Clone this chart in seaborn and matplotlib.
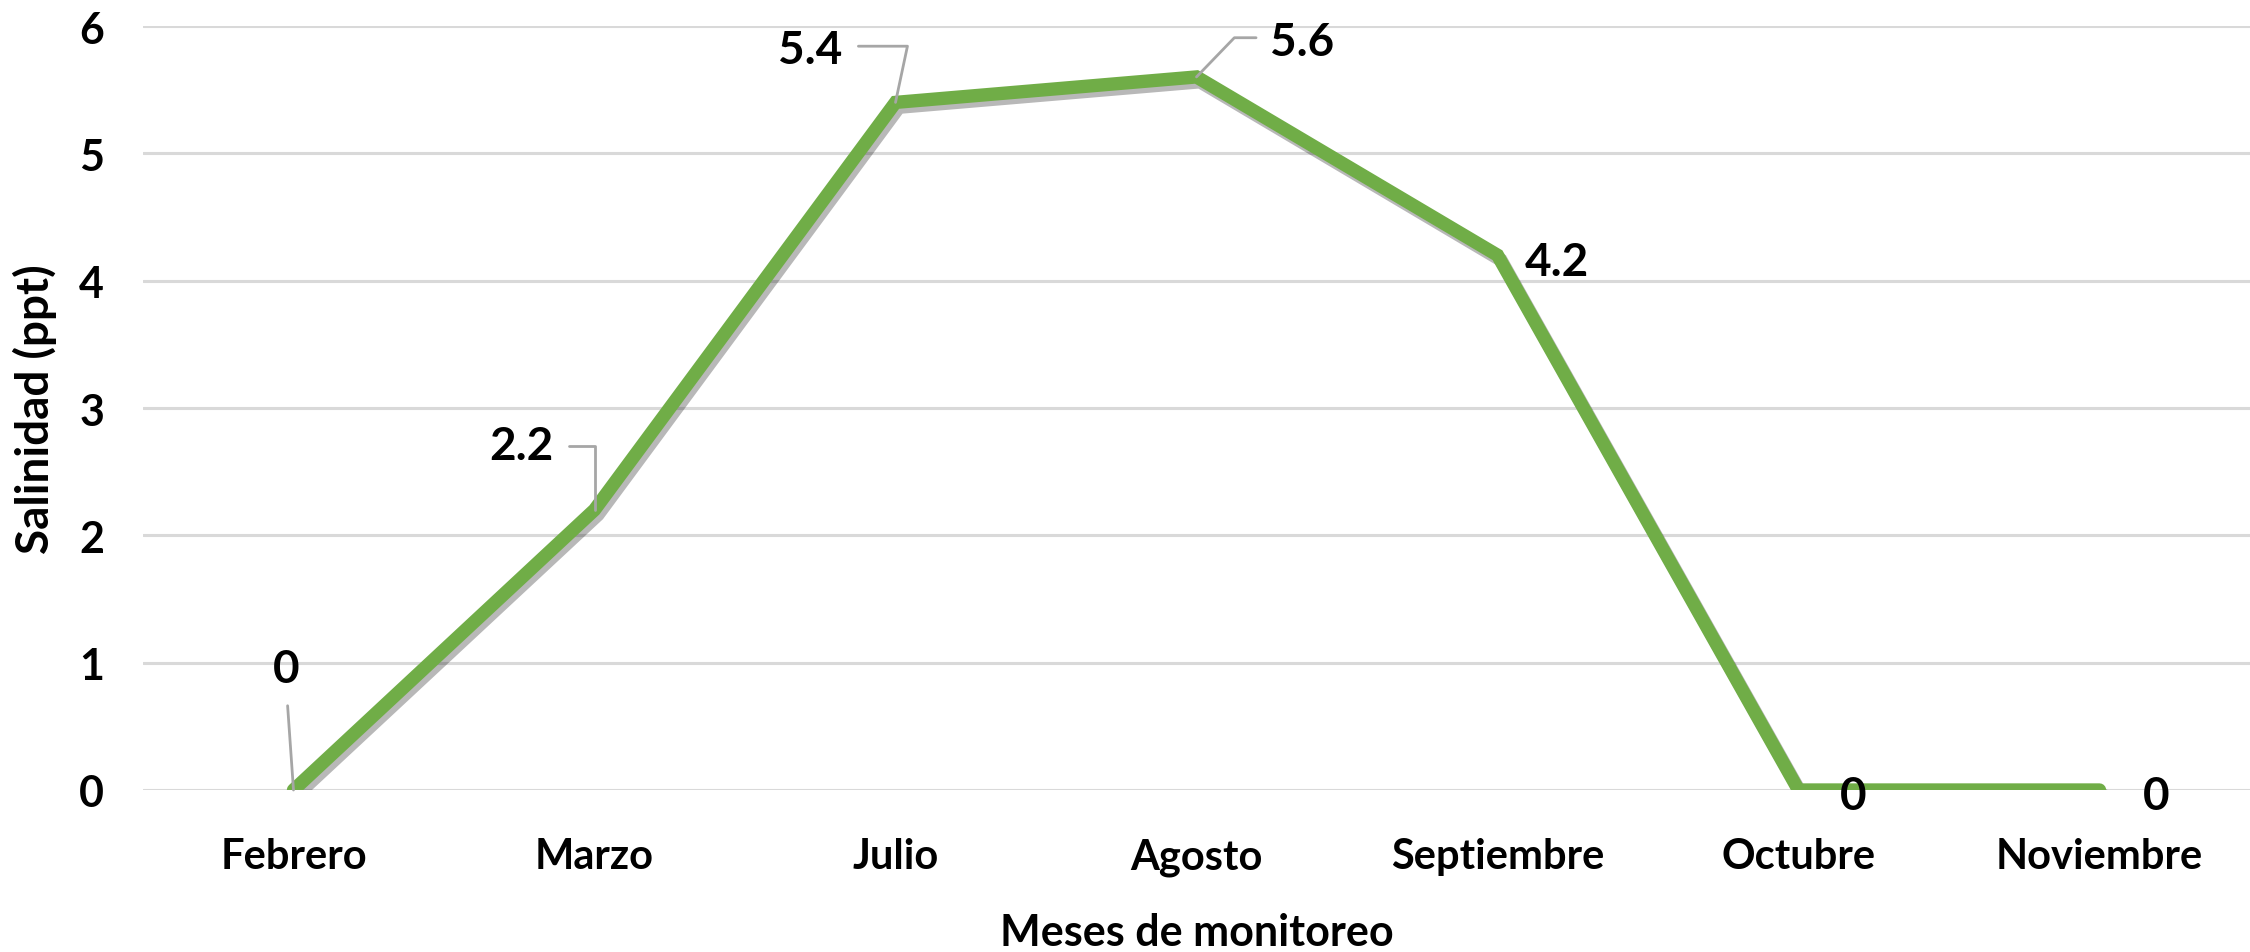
import matplotlib
matplotlib.use("Agg")
import matplotlib.pyplot as plt
import matplotlib.patheffects as pe
import seaborn as sns
import pandas as pd

# ---- data ----
meses = ["Febrero", "Marzo", "Julio", "Agosto", "Septiembre", "Octubre", "Noviembre"]
salinidad = [0, 2.2, 5.4, 5.6, 4.2, 0, 0]
etiquetas = ["0", "2.2", "5.4", "5.6", "4.2", "0", "0"]
yticks = [0, 1, 2, 3, 4, 5, 6]

df = pd.DataFrame({"mes": meses, "sal": salinidad})

sns.set_theme(style="white")
plt.rcParams["font.family"] = ["Lato", "DejaVu Sans"]

W, H, DPI = 2250, 953, 100
fig = plt.figure(figsize=(W / DPI, H / DPI), dpi=DPI)
ax = fig.add_axes([143 / W, (H - 791) / H, (W - 143) / W, (791 - 27) / H])

green = "#70AD47"
sns.lineplot(data=df, x="mes", y="sal", sort=False, ax=ax, color=green,
             linewidth=9.6, solid_joinstyle="miter", solid_capstyle="round",
             path_effects=[pe.SimpleLineShadow(offset=(2.5, -3.5), shadow_color="black", alpha=0.28),
                           pe.Normal()], zorder=3)

ax.set_xlim(-0.5, 6.5)
ax.set_ylim(0, 6)
ax.set_yticks(yticks)
ax.set_yticklabels([str(v) for v in yticks])
ax.grid(axis="y", color="#D9D9D9", linewidth=2.2, zorder=0)
ax.grid(axis="x", visible=False)
for s in ax.spines.values():
    s.set_visible(False)

ax.tick_params(axis="x", length=0, pad=34, labelsize=30)
ax.tick_params(axis="y", length=0, pad=28, labelsize=31)
for lab in ax.get_xticklabels() + ax.get_yticklabels():
    lab.set_fontweight("bold")
    lab.set_color("black")

ax.set_xlabel("Meses de monitoreo", fontsize=31, fontweight="bold", color="black")
ax.set_ylabel("Salinidad (ppt)", fontsize=33, fontweight="bold", color="black")
ax.xaxis.set_label_coords(0.5, -0.160)
ax.yaxis.set_label_coords(-0.041, 0.5)

# ---- data labels (layout offsets in pixels) ----
offsets = [(-7, 121), (-73, 64), (-85, 52), (106, 35), (59, -7), (55, -6), (57, -6)]
leader_color = "#A6A6A6"
leaders = [
    dict(arrowstyle="-", color=leader_color, lw=2.0, relpos=(0.5, 0.0), shrinkA=9, shrinkB=0),
    dict(arrowstyle="-", color=leader_color, lw=2.0, relpos=(1.0, 0.5), shrinkA=9, shrinkB=0,
         connectionstyle="angle,angleA=0,angleB=90,rad=0"),
    dict(arrowstyle="-", color=leader_color, lw=2.0, relpos=(1.0, 0.6), shrinkA=9, shrinkB=0,
         connectionstyle="angle,angleA=0,angleB=78,rad=0"),
    dict(arrowstyle="-", color=leader_color, lw=2.0, relpos=(0.0, 0.6), shrinkA=8, shrinkB=0,
         connectionstyle="angle,angleA=0,angleB=46,rad=0"),
    None, None, None,
]
for i, (lab, v) in enumerate(zip(etiquetas, salinidad)):
    ax.annotate(lab, xy=(i, v), xytext=offsets[i], textcoords="offset pixels",
                ha="center", va="center", fontsize=33, fontweight="bold", color="black",
                arrowprops=leaders[i], zorder=5, annotation_clip=False)

fig.savefig("out.png", dpi=DPI, facecolor="white")
